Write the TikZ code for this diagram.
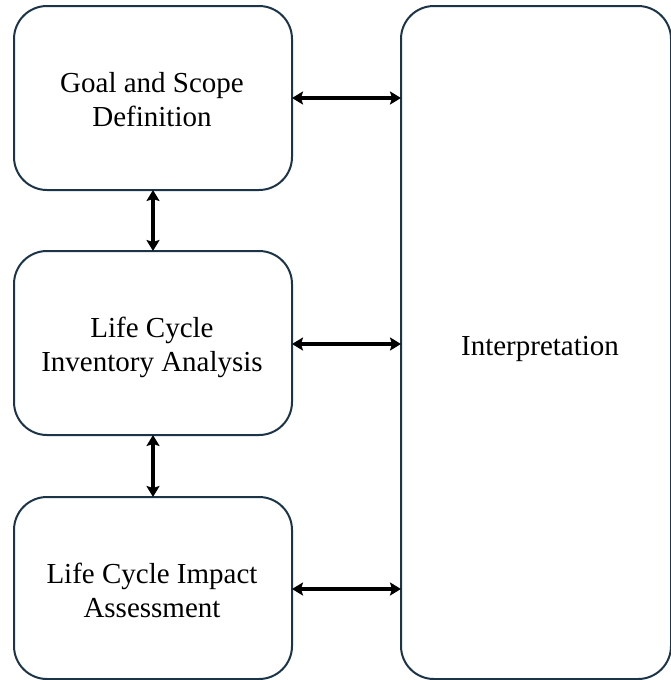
\documentclass[tikz,border=0pt]{standalone}
\usepackage{fontspec}
\setmainfont{Liberation Serif}
\usetikzlibrary{arrows.meta}
\definecolor{boxline}{HTML}{1B3448}
\begin{document}
\begin{tikzpicture}[x=1pt,y=-1pt,
  stagebox/.style={draw=boxline,line width=2pt,rounded corners=33pt,inner sep=0pt},
  conn/.style={{Stealth[length=11pt,width=13pt,inset=2pt]}-{Stealth[length=11pt,width=13pt,inset=2pt]},line width=3.4pt,black},
  lbl/.style={font=\fontsize{29}{34}\selectfont,align=center,inner sep=0pt}]
\useasboundingbox (0,0) rectangle (670,680);
\draw[stagebox] (14,6) rectangle (292,190);
\node[lbl] (goal) at (152,100) {Goal and Scope\\Definition};
\coordinate (goalR) at (292,98);
\coordinate (goalB) at (153,190);
\draw[stagebox] (14,251) rectangle (292,435);
\node[lbl] (lci) at (152,347.5) {Life Cycle\\Inventory Analysis};
\coordinate (lciR) at (292,344);
\coordinate (lciT) at (153,251);
\coordinate (lciB) at (153,435);
\draw[stagebox] (14,497) rectangle (292,679);
\node[lbl] (lcia) at (152,590) {Life Cycle Impact\\Assessment};
\coordinate (lciaR) at (292,589);
\coordinate (lciaT) at (153,497);
\draw[stagebox] (401,6) rectangle (671,679);
\node[lbl] (interp) at (540,348.5) {Interpretation};
\coordinate (iA) at (401,98);
\coordinate (iB) at (401,344);
\coordinate (iC) at (401,589);
\draw[conn] (goalR) -- (iA);
\draw[conn] (lciR) -- (iB);
\draw[conn] (lciaR) -- (iC);
\draw[conn] (goalB) -- (lciT);
\draw[conn] (lciB) -- (lciaT);
\end{tikzpicture}
\end{document}
